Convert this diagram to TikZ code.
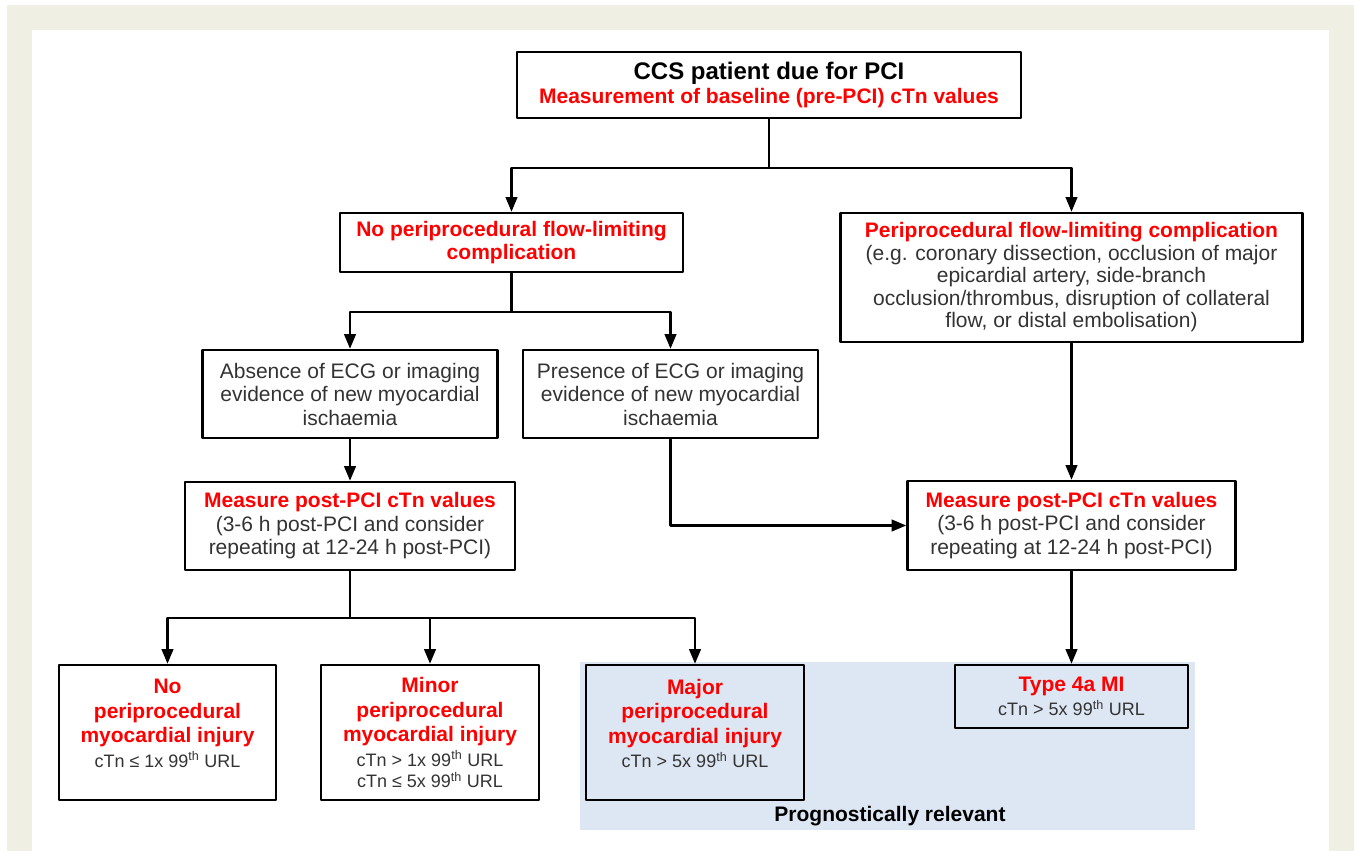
\documentclass[tikz,border=0pt]{standalone}
\usepackage{fontspec}
\setmainfont{Liberation Sans}
\usetikzlibrary{arrows}
\definecolor{bgbeige}{RGB}{239,239,228}
\definecolor{progblue}{RGB}{221,231,243}
\definecolor{txtgrey}{RGB}{51,51,51}
\definecolor{hdred}{RGB}{255,0,0}
\newcommand{\redbf}[1]{{\color{hdred}\bfseries #1}}
\newcommand{\smalltxt}{\fontsize{18}{21}\selectfont}

\begin{document}
\begin{tikzpicture}[line cap=round,line join=round,>=triangle 45,x=1pt,y=-1pt,
		box/.style={draw=black,line width=2.9pt,align=center,inner sep=0pt,text=txtgrey,font=\fontsize{21}{23.5}\selectfont},
		conn/.style={line width=2.4pt,->}]
		\useasboundingbox (0,0) rectangle (1357,851);
		\fill[bgbeige] (7,5) rectangle (1354,851);
		\fill[white] (32,30) rectangle (1329,851);
		\fill[progblue] (580,662) rectangle (1195,830);
		\node[box,minimum width=504pt,minimum height=66pt] (ccs) at (769,85) {{\color{black}\bfseries\fontsize{24}{28}\selectfont CCS patient due for PCI}\\\redbf{Measurement of baseline (pre-PCI) cTn values}};
		\node[box,minimum width=343pt,minimum height=59pt] (npfc) at (511.5,242.5) {\redbf{No periprocedural flow-limiting}\\\redbf{complication}};
		\node[box,minimum width=462pt,minimum height=129pt,font=\fontsize{21}{22.5}\selectfont] (pfc) at (1071.5,277.5) {\redbf{Periprocedural flow-limiting complication}\\(e.g. coronary dissection, occlusion of major\\epicardial artery, side-branch\\occlusion/thrombus, disruption of collateral\\flow, or distal embolisation)};
		\node[box,minimum width=295pt,minimum height=88pt] (absence) at (350,394) {Absence of ECG or imaging\\evidence of new myocardial\\ischaemia};
		\node[box,minimum width=295pt,minimum height=88pt] (presence) at (670.5,394) {Presence of ECG or imaging\\evidence of new myocardial\\ischaemia};
		\node[box,minimum width=330pt,minimum height=88pt] (measL) at (350,526) {\redbf{Measure post-PCI cTn values}\\(3-6 h post-PCI and consider\\repeating at 12-24 h post-PCI)};
		\node[box,minimum width=328pt,minimum height=89pt] (measR) at (1071.5,525.5) {\redbf{Measure post-PCI cTn values}\\(3-6 h post-PCI and consider\\repeating at 12-24 h post-PCI)};
		\node[box,minimum width=217pt,minimum height=135pt,font=\fontsize{21}{24.5}\selectfont] (noinj) at (167.5,732.5) {\redbf{No}\\\redbf{periprocedural}\\\redbf{myocardial injury}\\{\smalltxt cTn ≤ 1x 99\textsuperscript{th} URL}\\[-6pt]};
		\node[box,minimum width=218pt,minimum height=135pt,font=\fontsize{21}{24.5}\selectfont] (minorinj) at (430,732.5) {\redbf{Minor}\\\redbf{periprocedural}\\\redbf{myocardial injury}\\{\smalltxt cTn > 1x 99\textsuperscript{th} URL}\\[-3pt]{\smalltxt cTn ≤ 5x 99\textsuperscript{th} URL}};
		\node[box,minimum width=218pt,minimum height=135pt,font=\fontsize{21}{24.5}\selectfont] (majorinj) at (695,732.5) {\redbf{Major}\\\redbf{periprocedural}\\\redbf{myocardial injury}\\{\smalltxt cTn > 5x 99\textsuperscript{th} URL}\\[-6pt]};
		\node[box,minimum width=233pt,minimum height=63pt] (type4a) at (1071.5,696.5) {\redbf{Type 4a MI}\\{\smalltxt cTn > 5x 99\textsuperscript{th} URL}};
		\node[text=black,font=\bfseries\fontsize{21}{24}\selectfont] (prog) at (890,816) {Prognostically relevant};
		\coordinate (j1) at (769,168);
		\coordinate (j2) at (511.5,312);
		\coordinate (j3) at (350,618);
		\draw[conn] (ccs.south) -- (j1) -| (npfc.north);
		\draw[conn] (j1) -| (pfc.north);
		\draw[conn] (npfc.south) -- (j2) -| (absence.north);
		\draw[conn] (j2) -| (presence.north);
		\draw[conn] (absence.south) -- (measL.north);
		\draw[conn] (presence.south) |- (measR.west);
		\draw[conn] (pfc.south) -- (measR.north);
		\draw[conn] (measL.south) -- (j3) -| (noinj.north);
		\draw[conn] (j3) -| (minorinj.north);
		\draw[conn] (j3) -| (majorinj.north);
		\draw[conn] (measR.south) -- (type4a.north);
	\end{tikzpicture}
\end{document}
